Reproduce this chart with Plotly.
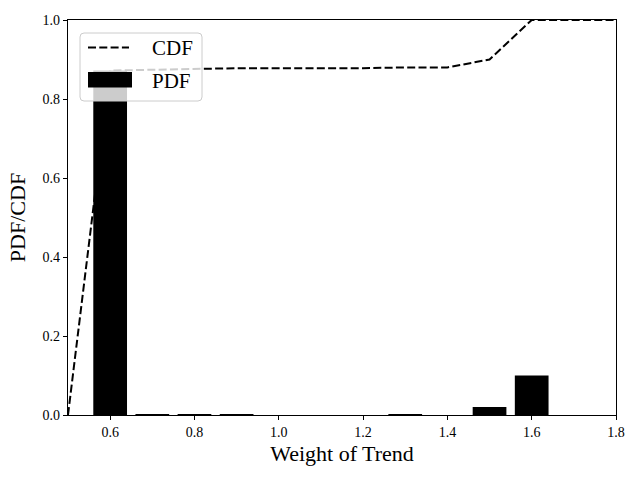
import plotly.graph_objects as go

# Data
pdf_x = [0.6, 0.7, 0.8, 0.9, 1.3, 1.5, 1.6]
pdf_y = [0.872, 0.002, 0.002, 0.002, 0.002, 0.020, 0.100]
cdf_x = [0.5, 0.6, 0.7, 0.8, 0.9, 1.0, 1.1, 1.2, 1.3, 1.4, 1.5, 1.6, 1.7, 1.8]
cdf_y = [0.0, 0.872, 0.874, 0.876, 0.878, 0.878, 0.878, 0.878, 0.880, 0.880, 0.900, 1.0, 1.0, 1.0]
x_ticks = [0.6, 0.8, 1.0, 1.2, 1.4, 1.6, 1.8]
y_ticks = [0.0, 0.2, 0.4, 0.6, 0.8, 1.0]

FONT = "Liberation Serif"
W, H = 640, 480
L, R, T, B = 68, 24, 20, 65
PW, PH = W - L - R, H - T - B
DASH = "8px,3.3px"


def px(x):
    return (x - L) / PW


def py(y):
    return (H - B - y) / PH


fig = go.Figure()
fig.add_trace(go.Bar(x=pdf_x, y=pdf_y, width=0.08, name="PDF",
                     marker=dict(color="black", line=dict(width=0))))
fig.add_trace(go.Scatter(x=cdf_x, y=cdf_y, mode="lines", name="CDF",
                         line=dict(color="black", dash=DASH, width=2)))

# Legend drawn manually (matplotlib style)
x0, x1, y0, y1, r = 80, 202, 33, 101, 4
path = (f"M {px(x0 + r)} {py(y0)} L {px(x1 - r)} {py(y0)} "
        f"Q {px(x1)} {py(y0)} {px(x1)} {py(y0 + r)} "
        f"L {px(x1)} {py(y1 - r)} Q {px(x1)} {py(y1)} {px(x1 - r)} {py(y1)} "
        f"L {px(x0 + r)} {py(y1)} Q {px(x0)} {py(y1)} {px(x0)} {py(y1 - r)} "
        f"L {px(x0)} {py(y0 + r)} Q {px(x0)} {py(y0)} {px(x0 + r)} {py(y0)} Z")
shapes = [
    dict(type="path", xref="paper", yref="paper", path=path,
         fillcolor="rgba(255,255,255,0.8)", line=dict(color="#cccccc", width=1), layer="above"),
    dict(type="line", xref="paper", yref="paper", x0=px(88), x1=px(129), y0=py(47.5), y1=py(47.5),
         line=dict(color="black", dash=DASH, width=2), layer="above"),
    dict(type="rect", xref="paper", yref="paper", x0=px(88), x1=px(132), y0=py(72), y1=py(87.5),
         fillcolor="black", line=dict(width=0), layer="above"),
]
annotations = [
    dict(text="CDF", xref="paper", yref="paper", x=px(150), y=py(48), xanchor="left", yanchor="middle",
         showarrow=False, font=dict(family=FONT, size=21, color="black")),
    dict(text="PDF", xref="paper", yref="paper", x=px(150), y=py(81), xanchor="left", yanchor="middle",
         showarrow=False, font=dict(family=FONT, size=21, color="black")),
]

fig.update_layout(
    width=W, height=H,
    margin=dict(l=L, r=R, t=T, b=B, autoexpand=False),
    paper_bgcolor="white", plot_bgcolor="white",
    font=dict(family=FONT, color="black"),
    showlegend=False,
    shapes=shapes, annotations=annotations,
    xaxis=dict(range=[0.5, 1.8], tickvals=x_ticks, ticktext=[f"{v:.1f}" for v in x_ticks],
               showgrid=False, zeroline=False, showline=True, mirror=True, automargin=False,
               linecolor="black", linewidth=1.2, ticks="outside", ticklen=4,
               tickcolor="black", tickfont=dict(family=FONT, size=14, color="black"),
               title=dict(text="Weight of Trend", font=dict(family=FONT, size=22), standoff=6)),
    yaxis=dict(range=[0, 1.0], tickvals=y_ticks, ticktext=[f"{v:.1f}" for v in y_ticks],
               showgrid=False, zeroline=False, showline=True, mirror=True, automargin=False,
               linecolor="black", linewidth=1.2, ticks="outside", ticklen=4,
               tickcolor="black", tickfont=dict(family=FONT, size=14, color="black"),
               title=dict(text="PDF/CDF", font=dict(family=FONT, size=22), standoff=10)),
)

# remove the default page margin so the figure sits at the window origin
fig.write_html("out.html", config={"displayModeBar": False},
               post_script="document.body.style.margin='0';")
